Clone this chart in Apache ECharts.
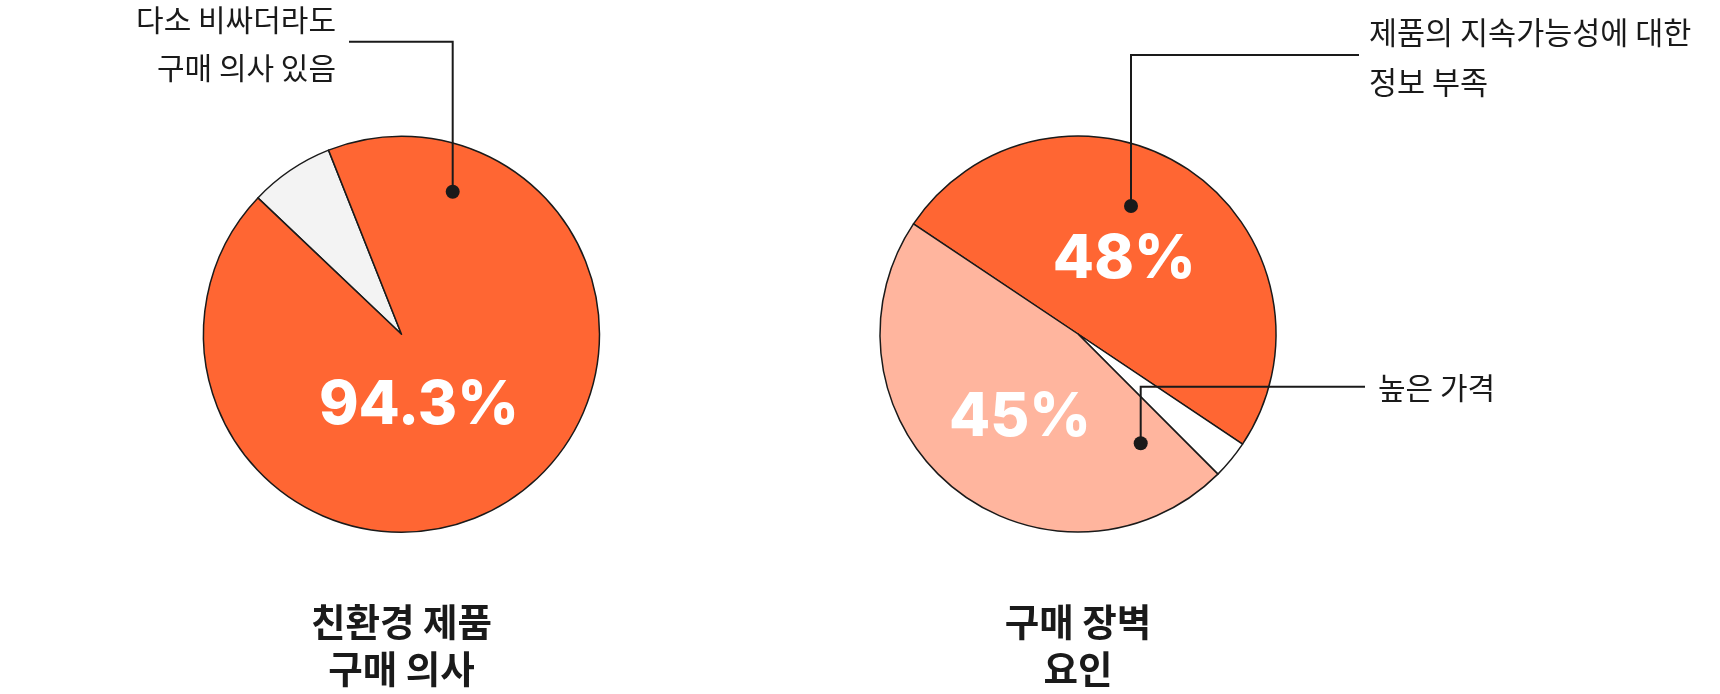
<!DOCTYPE html>
<html>
<head>
<meta charset="utf-8">
<script src="https://cdn.jsdelivr.net/npm/echarts@6/dist/echarts.min.js"></script>
<style>
html,body{margin:0;padding:0;background:#fff;}
#chart{width:1720px;height:694px;}
</style>
</head>
<body>
<div id="chart"></div>
<script>
// ---- data ----
const leftCategories = ['구매 의사 없음', '다소 비싸더라도 구매 의사 있음'];
const leftValues = [7, 94.3];
const leftColors = ['#F3F3F3', '#FF6633'];
const leftTitle = ['친환경 제품', '구매 의사'];
const leftAnnotation = ['다소 비싸더라도', '구매 의사 있음'];

const rightCategories = ['제품의 지속가능성에 대한 정보 부족', '기타', '높은 가격'];
const rightValues = [48, 3, 45];
const rightColors = ['#FF6633', '#FFFFFF', '#FFB59E'];
const rightTitle = ['구매 장벽', '요인'];
const rightAnnotationTop = ['제품의 지속가능성에 대한', '정보 부족'];
const rightAnnotationBottom = ['높은 가격'];

// ---- layout ----
const KR = '"Noto Sans CJK KR", "Noto Sans", sans-serif';
const INK = '#1a1a1a';
const L = { cx: 401.5, cy: 334.2, r: 198 };
const R = { cx: 1078, cy: 334, r: 198 };

function pieSeries(cats, vals, colors, c, startAngle) {
  return {
    type: 'pie',
    center: [c.cx, c.cy],
    radius: c.r,
    startAngle: startAngle,
    clockwise: true,
    silent: true,
    label: { show: false },
    labelLine: { show: false },
    itemStyle: { borderColor: INK, borderWidth: 1.5 },
    data: cats.map((n, i) => ({ name: n, value: vals[i], itemStyle: { color: colors[i] } }))
  };
}

function leader(points) {
  return { type: 'polyline', z: 10, shape: { points: points }, style: { stroke: INK, lineWidth: 2, fill: null } };
}
function dot(x, y) {
  return { type: 'circle', z: 11, shape: { cx: x, cy: y, r: 7 }, style: { fill: INK } };
}
function label(lines, x, y, align, size, weight, lh) {
  return {
    type: 'text', z: 12, x: x, y: y,
    style: {
      text: lines.join('\n'),
      font: weight + ' ' + size + 'px ' + KR,
      fill: INK,
      align: align,
      verticalAlign: 'middle',
      lineHeight: lh
    }
  };
}
function pct(v, x, y) {
  return {
    type: 'text', z: 12, x: x, y: y,
    style: {
      text: v + '%',
      font: '800 60px Inter, "Open Sans", sans-serif',
      fill: '#FFFFFF',
      align: 'center',
      verticalAlign: 'middle'
    }
  };
}

const chart = echarts.init(document.getElementById('chart'), null, { renderer: 'canvas' });
chart.setOption({
  animation: false,
  backgroundColor: '#ffffff',
  series: [
    pieSeries(leftCategories, leftValues, leftColors, L, 136.5),
    pieSeries(rightCategories, rightValues, rightColors, R, 146.2)
  ],
  graphic: [
    // left annotation
    leader([[349, 41.7], [452.7, 41.7], [452.7, 191.7]]),
    dot(452.7, 191.7),
    label(leftAnnotation, 336, 43.5, 'right', 30, 'normal', 48),
    // right top annotation
    leader([[1359, 55], [1131, 55], [1131, 206]]),
    dot(1131, 206),
    label(rightAnnotationTop, 1369, 57.5, 'left', 30.5, 'normal', 50),
    // right bottom annotation
    leader([[1365, 386.7], [1140.7, 386.7], [1140.7, 443.3]]),
    dot(1140.7, 443.3),
    label(rightAnnotationBottom, 1378, 387.5, 'left', 30, 'normal', 46),
    // percentages
    pct(leftValues[1], 418.9, 406),
    pct(rightValues[0], 1124.3, 260),
    pct(rightValues[2], 1020, 418),
    // titles
    label(leftTitle, L.cx, 645, 'center', 37.5, 'bold', 47),
    label(rightTitle, R.cx, 645, 'center', 37.5, 'bold', 47)
  ]
});
</script>
</body>
</html>
